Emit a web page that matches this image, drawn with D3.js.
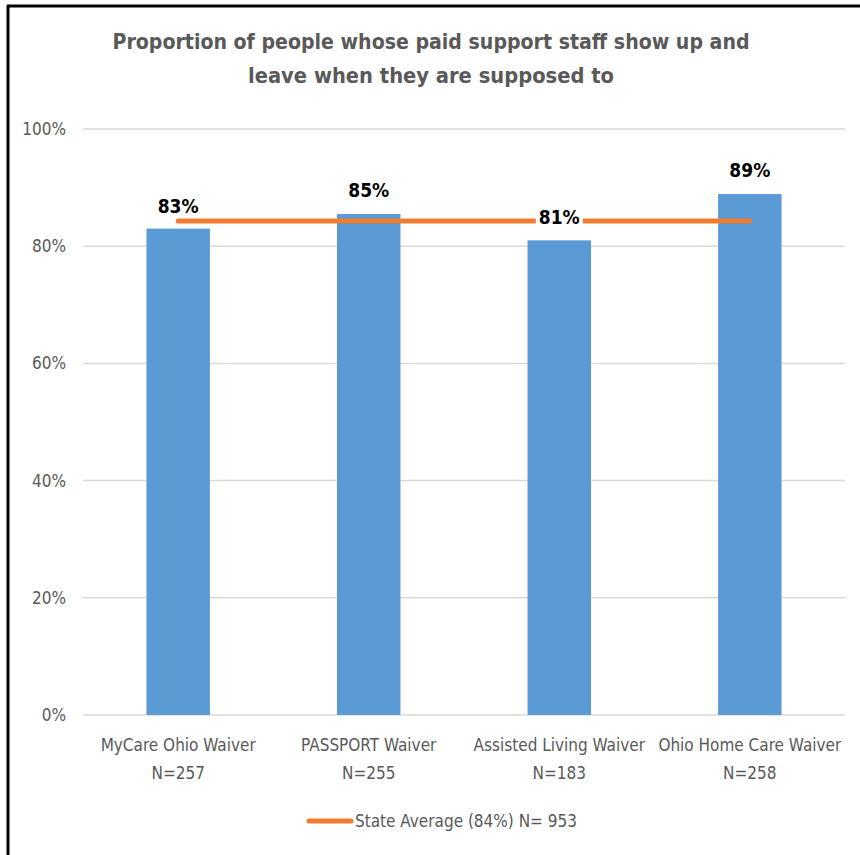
<!DOCTYPE html>
<html>
<head>
<meta charset="utf-8">
<script src="https://cdn.jsdelivr.net/npm/d3@7"></script>
<style>
  html, body { margin: 0; padding: 0; background: #fff; }
  svg { display: block; }
  text { font-family: "Liberation Sans Narrow", "Arial Narrow", "DejaVu Sans Condensed", sans-serif; }
</style>
</head>
<body>
<svg id="chart" width="860" height="855"></svg>
<script>
const titleLines = ["Proportion of people whose paid support staff show up and", "leave when they are supposed to"];
const titleWidths = [637, 366];
const categories = ["MyCare Ohio Waiver", "PASSPORT Waiver", "Assisted Living Waiver", "Ohio Home Care Waiver"];
const sampleSizes = ["N=257", "N=255", "N=183", "N=258"];
const values = [0.83, 0.855, 0.81, 0.889];
const valueLabels = ["83%", "85%", "81%", "89%"];
const stateAverage = 0.843;
const legendLabel = "State Average (84%) N= 953";
const yTicks = [0, 0.2, 0.4, 0.6, 0.8, 1.0];

const svg = d3.select("#chart");

// frame (top + left edges)
svg.append("line").attr("x1", 7).attr("x2", 860).attr("y1", 6).attr("y2", 6)
  .attr("stroke", "#000").attr("stroke-width", 3);
svg.append("line").attr("x1", 8).attr("x2", 8).attr("y1", 5).attr("y2", 855)
  .attr("stroke", "#000").attr("stroke-width", 3);

const x = d3.scaleBand().domain(categories).range([83, 845]).paddingInner(0.667).paddingOuter(0.333);
const y = d3.scaleLinear().domain([0, 1]).range([715, 129]);

// title
svg.append("g").selectAll("text").data(titleLines).join("text")
  .attr("x", 431).attr("y", (d, i) => 49 + i * 34)
  .attr("text-anchor", "middle")
  .attr("font-size", 22).attr("font-weight", "bold").attr("fill", "#595959")
  .attr("textLength", (d, i) => titleWidths[i]).attr("lengthAdjust", "spacingAndGlyphs")
  .text(d => d);

// gridlines
svg.append("g").selectAll("line").data(yTicks).join("line")
  .attr("x1", 83).attr("x2", 845)
  .attr("y1", d => y(d)).attr("y2", d => y(d))
  .attr("stroke", "#d9d9d9").attr("stroke-width", 1.5);

// y axis labels
const yAxis = d3.axisLeft(y).tickValues(yTicks).tickFormat(d3.format(".0%")).tickSize(0).tickPadding(0);
const gy = svg.append("g").attr("transform", "translate(66,0)").call(yAxis);
gy.select(".domain").remove();
gy.selectAll("text").attr("font-size", 17).attr("fill", "#595959")
  .attr("font-family", "'Liberation Sans Narrow', 'Arial Narrow', 'DejaVu Sans Condensed', sans-serif");

// bars
svg.append("g").selectAll("rect").data(categories).join("rect")
  .attr("x", d => x(d))
  .attr("width", x.bandwidth())
  .attr("y", (d, i) => y(values[i]))
  .attr("height", (d, i) => y(0) - y(values[i]))
  .attr("fill", "#5b9bd5");

// average line
const cx = d => x(d) + x.bandwidth() / 2;
svg.append("line")
  .attr("x1", cx(categories[0])).attr("x2", cx(categories[3]))
  .attr("y1", y(stateAverage)).attr("y2", y(stateAverage))
  .attr("stroke", "#ed7d31").attr("stroke-width", 5).attr("stroke-linecap", "round");

// value labels with white backgrounds
const labelG = svg.append("g");
const labelOffsets = [-16, -17, 0, -17];
categories.forEach((c, i) => {
  const baseY = i === 2 ? y(stateAverage) + 3 : y(values[i]) + labelOffsets[i];
  const g = labelG.append("g");
  const t = g.append("text")
    .attr("x", cx(c)).attr("y", baseY)
    .attr("text-anchor", "middle")
    .attr("font-size", 19).attr("font-weight", "bold").attr("fill", "#000")
    .attr("font-family", "Carlito, Calibri, 'Open Sans', sans-serif")
    .text(valueLabels[i]);
  const bb = t.node().getBBox();
  g.insert("rect", "text")
    .attr("x", bb.x - 3).attr("y", bb.y + 1).attr("width", bb.width + 6).attr("height", bb.height)
    .attr("fill", "#fff");
});

// x axis labels
const xl = svg.append("g");
categories.forEach((c, i) => {
  xl.append("text").attr("x", cx(c)).attr("y", 751).attr("text-anchor", "middle")
    .attr("font-size", 17).attr("fill", "#595959").text(c);
  xl.append("text").attr("x", cx(c)).attr("y", 779).attr("text-anchor", "middle")
    .attr("font-size", 17).attr("fill", "#595959").text(sampleSizes[i]);
});

// legend
svg.append("line").attr("x1", 309).attr("x2", 351).attr("y1", 821).attr("y2", 821)
  .attr("stroke", "#ed7d31").attr("stroke-width", 5).attr("stroke-linecap", "round");
svg.append("text").attr("x", 355).attr("y", 827).attr("font-size", 17).attr("fill", "#595959")
  .text(legendLabel);
</script>
</body>
</html>
